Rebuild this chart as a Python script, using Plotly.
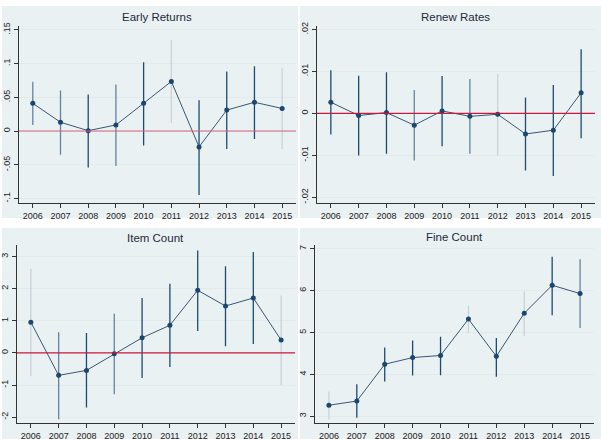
import plotly.graph_objects as go
from plotly.subplots import make_subplots

years = [2006, 2007, 2008, 2009, 2010, 2011, 2012, 2013, 2014, 2015]

# Early Returns
er_est = [0.041, 0.013, 0.0005, 0.009, 0.041, 0.0735, -0.0235, 0.031, 0.0426, 0.0334]
er_lo = [0.009, -0.035, -0.054, -0.052, -0.0216, 0.012, -0.0946, -0.0265, -0.0118, -0.0265]
er_hi = [0.073, 0.060, 0.054, 0.069, 0.102, 0.135, 0.0456, 0.088, 0.096, 0.0937]

# Renew Rates
rr_est = [0.00267, -0.0005, 0.0002, -0.0028, 0.0006, -0.0007, -0.0002, -0.0049, -0.0040, 0.0049]
rr_lo = [-0.0050, -0.0100, -0.0096, -0.0112, -0.0078, -0.0096, -0.0100, -0.0136, -0.0149, -0.0059]
rr_hi = [0.0103, 0.0090, 0.0098, 0.0056, 0.0089, 0.0082, 0.0094, 0.0038, 0.0068, 0.0153]

# Item Count
ic_est = [0.957, -0.70, -0.545, -0.03, 0.47, 0.86, 1.95, 1.46, 1.71, 0.40]
ic_lo = [-0.73, -2.07, -1.70, -1.29, -0.78, -0.44, 0.68, 0.21, 0.28, -1.01]
ic_hi = [2.62, 0.64, 0.62, 1.22, 1.71, 2.15, 3.19, 2.70, 3.14, 1.79]

# Fine Count
fc_est = [3.26, 3.36, 4.24, 4.40, 4.45, 5.32, 4.43, 5.46, 6.13, 5.93]
fc_lo = [2.92, 2.96, 3.83, 3.97, 3.98, 4.98, 3.94, 4.91, 5.41, 5.11]
fc_hi = [3.59, 3.76, 4.64, 4.81, 4.90, 5.64, 4.87, 5.98, 6.81, 6.75]

titles = ["Early Returns", "Renew Rates", "Item Count", "Fine Count"]

er_ticks = [-0.1, -0.05, 0, 0.05, 0.1, 0.15]
er_text = ["-.1", "-.05", "0", ".05", ".1", ".15"]
rr_ticks = [-0.02, -0.01, 0, 0.01, 0.02]
rr_text = ["-.02", "-.01", "0", ".01", ".02"]
ic_ticks = [-2, -1, 0, 1, 2, 3]
ic_text = ["-2", "-1", "0", "1", "2", "3"]
fc_ticks = [3, 4, 5, 6, 7]
fc_text = ["3", "4", "5", "6", "7"]

# styling (rendering shades of the CI spikes in the reference)
D, M, L = "#1f4a70", "#6583a0", "#c9d2d9"
er_cols = [M, M, D, M, D, L, D, D, D, L]
rr_cols = [D, D, D, M, D, M, L, D, D, D]
ic_cols = [L, M, D, M, D, D, D, D, D, L]
fc_cols = [L, D, D, D, D, L, D, L, D, M]
zero_cols = ["#d4637c", "#c8183f", "#c8183f", None]

W, H = 601, 441
def xd(a, b):
    return [a / W, b / W]
def yd(top, bot):
    return [1 - bot / H, 1 - top / H]

panels = [
    dict(est=er_est, lo=er_lo, hi=er_hi, cols=er_cols, tv=er_ticks, tt=er_text,
         yr=[-0.107, 0.156], xdom=xd(17, 295), ydom=yd(22, 202),
         box=(0, 2, 297, 217), ttl_y=13),
    dict(est=rr_est, lo=rr_lo, hi=rr_hi, cols=rr_cols, tv=rr_ticks, tt=rr_text,
         yr=[-0.0214, 0.0209], xdom=xd(316, 595), ydom=yd(22, 202),
         box=(299, 2, 601, 217), ttl_y=13),
    dict(est=ic_est, lo=ic_lo, hi=ic_hi, cols=ic_cols, tv=ic_ticks, tt=ic_text,
         yr=[-2.19, 3.37], xdom=xd(15, 294), ydom=yd(244, 425),
         box=(0, 227, 297, 441), ttl_y=237),
    dict(est=fc_est, lo=fc_lo, hi=fc_hi, cols=fc_cols, tv=fc_ticks, tt=fc_text,
         yr=[2.83, 7.10], xdom=xd(314, 594), ydom=yd(244, 425),
         box=(299, 227, 601, 441), ttl_y=236),
]

fig = make_subplots(rows=2, cols=2)
font = "Liberation Sans, Arial, sans-serif"

for i, p in enumerate(panels):
    r, c = i // 2 + 1, i % 2 + 1
    for yr_, lo, hi, col in zip(years, p["lo"], p["hi"], p["cols"]):
        fig.add_trace(go.Scatter(x=[yr_, yr_], y=[lo, hi], mode="lines",
                                 line=dict(color=col, width=1.3),
                                 showlegend=False, hoverinfo="skip"), row=r, col=c)
    if zero_cols[i]:
        fig.add_hline(y=0, line=dict(color=zero_cols[i], width=1.2), row=r, col=c)
    fig.add_trace(go.Scatter(x=years, y=p["est"], mode="lines+markers",
                             line=dict(color="#3b5672", width=1),
                             marker=dict(color="#1a476f", size=5),
                             showlegend=False), row=r, col=c)
    ax = "" if i == 0 else str(i + 1)
    fig.layout["xaxis" + ax].update(
        domain=p["xdom"], range=[2005.5, 2015.5], tickmode="array", tickvals=years,
        ticktext=[str(y) for y in years], ticks="outside", ticklen=4, tickcolor="#333",
        showline=True, linecolor="#333", linewidth=1, showgrid=False, zeroline=False,
        tickfont=dict(size=9, color="#222", family=font), fixedrange=True)
    fig.layout["yaxis" + ax].update(
        domain=p["ydom"], range=p["yr"], tickmode="array", tickvals=p["tv"],
        ticktext=p["tt"], ticks="outside", ticklen=4, tickcolor="#333", tickangle=-90,
        showline=True, linecolor="#333", linewidth=1, showgrid=True,
        gridcolor="#e3eaec", gridwidth=1, zeroline=False,
        tickfont=dict(size=9, color="#222", family=font), fixedrange=True)
    x0, y0, x1, y1 = p["box"]
    fig.add_shape(type="rect", xref="paper", yref="paper", x0=x0 / W, x1=x1 / W,
                  y0=1 - y1 / H, y1=1 - y0 / H, fillcolor="#eaf1f3",
                  line=dict(width=0), layer="below")
    fig.add_annotation(text=titles[i], xref="paper", yref="paper",
                       x=(p["xdom"][0] + p["xdom"][1]) / 2, y=1 - p["ttl_y"] / H,
                       showarrow=False, xanchor="center", yanchor="middle",
                       font=dict(size=11.5, color="#1e2a3a", family=font))

fig.update_layout(width=W, height=H, margin=dict(l=0, r=0, t=0, b=0),
                  paper_bgcolor="white", plot_bgcolor="white", showlegend=False)

fig.write_html("out.html")
